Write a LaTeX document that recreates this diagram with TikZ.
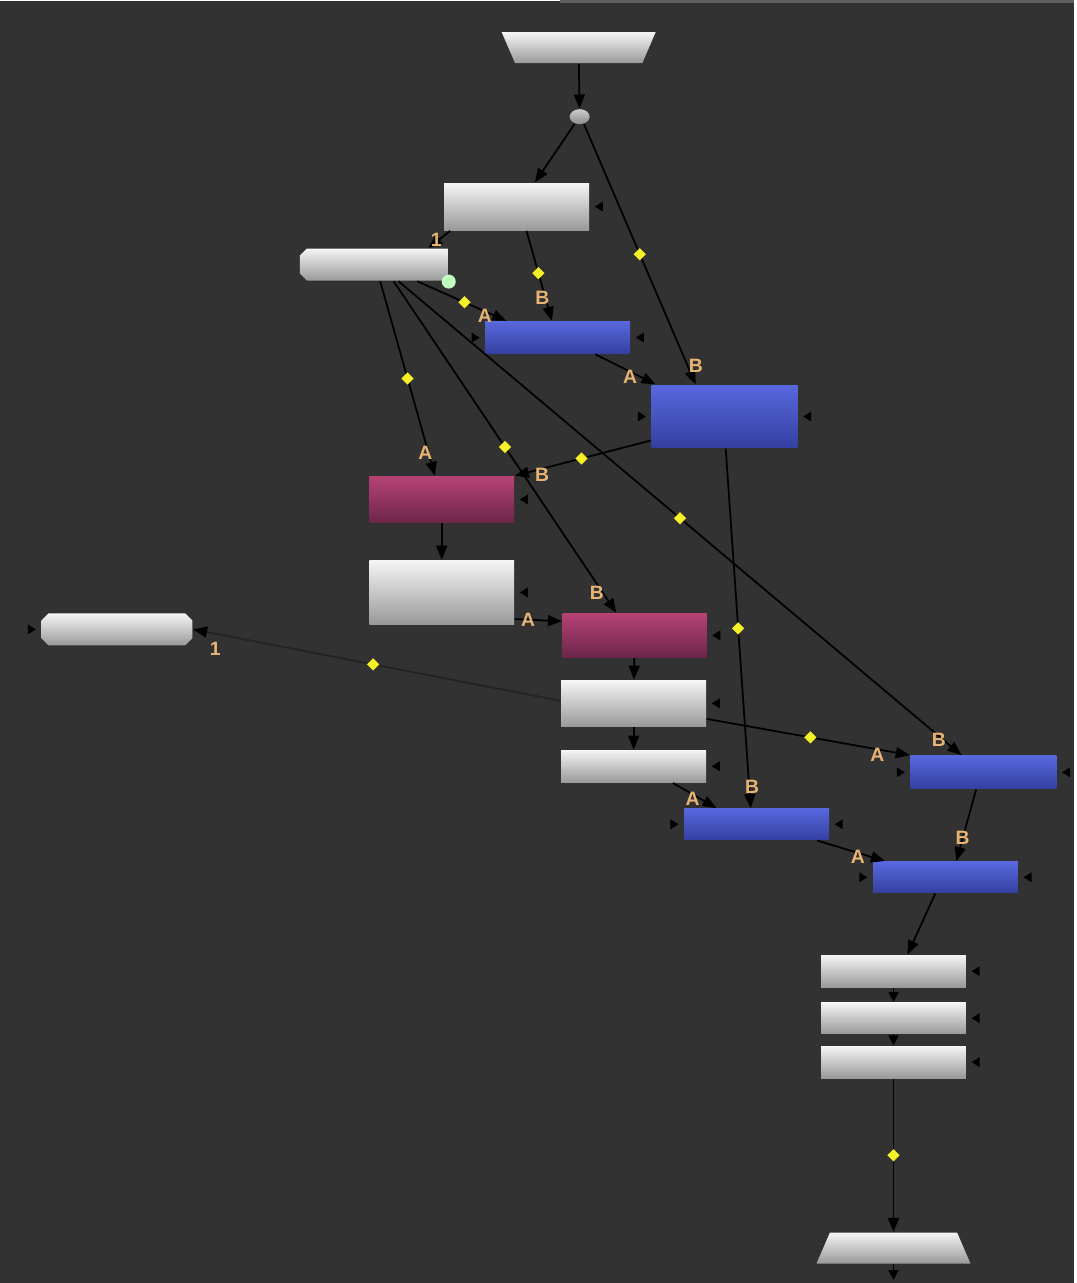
\documentclass[tikz,border=0pt]{standalone}
\usepackage{fontspec}
\setsansfont{Liberation Sans}
\usetikzlibrary{arrows.meta,shapes.geometric,shapes.misc}
\definecolor{bg}{RGB}{50,50,50}
\definecolor{dyel}{RGB}{245,240,40}
\definecolor{lblc}{RGB}{232,180,115}
\definecolor{bluT}{RGB}{88,104,222}
\definecolor{bluB}{RGB}{52,64,160}
\definecolor{pnkT}{RGB}{182,66,116}
\definecolor{pnkB}{RGB}{108,38,74}
\begin{document}
\begin{tikzpicture}[x=0.1mm, y=-0.1mm, >={Triangle[length=1.4mm,width=1.1mm]},
    pipe/.style={->, line width=0.5pt, black},
    short/.style={pipe, -{Triangle[length=1mm,width=1mm]}},
    faint/.style={pipe, draw=black!30!bg, -{Triangle[length=1.4mm,width=1.1mm,color=black]}},
    grey/.style={rectangle, inner sep=0, top color=gray!8, bottom color=gray!80},
    blu/.style={rectangle, inner sep=0, top color=bluT, bottom color=bluB},
    pnk/.style={rectangle, inner sep=0, top color=pnkT, bottom color=pnkB},
    iobox/.style={grey, trapezium, trapezium stretches=true, trapezium angle=84, inner sep=1pt,
        minimum width=15.4mm, minimum height=3.1mm},
    dia/.style={diamond, fill=dyel, inner sep=0, minimum width=1.3mm, minimum height=1.3mm},
    lbl/.style={text=lblc, font=\fontsize{5.5}{6}\sffamily\bfseries, inner sep=0}]
    \fill[bg] (0,0) rectangle (1075,1283);
    \draw[line width=1pt, gray!60!bg] (560,1) -- (1075,1);
    % nodes
    \node[iobox, shape border rotate=180] (rd) at (579,47) {};
    \node[ellipse, inner sep=0, minimum width=2mm, minimum height=1.5mm, top color=gray!40, bottom color=gray!90] (dt) at (580,116) {};
    \node[grey, minimum width=14.5mm, minimum height=4.7mm] (n1) at (517,206) {};
    \node[grey, chamfered rectangle, chamfered rectangle corners={north west,south west},
        chamfered rectangle xsep=0.7mm, chamfered rectangle ysep=0.9mm, inner sep=1pt,
        minimum width=14.8mm, minimum height=3.2mm] (n2) at (374,264) {};
    \node[circle, inner sep=0, minimum size=1.4mm, fill=green!25!white] (gd) at (449,281) {};
    \node[blu, minimum width=14.5mm, minimum height=3.2mm] (m1) at (558,337) {};
    \node[blu, minimum width=14.6mm, minimum height=6.3mm] (m2) at (725,416) {};
    \node[pnk, minimum width=14.5mm, minimum height=4.6mm] (k1) at (442,499) {};
    \node[grey, minimum width=14.5mm, minimum height=6.4mm] (w1) at (442,592) {};
    \node[pnk, minimum width=14.4mm, minimum height=4.4mm] (k2) at (635,635) {};
    \node[grey, chamfered rectangle, chamfered rectangle xsep=0.6mm, chamfered rectangle ysep=1.6mm, inner sep=1pt,
        minimum width=15.1mm, minimum height=3.2mm] (hx) at (117,629) {};
    \node[grey, minimum width=14.5mm, minimum height=4.6mm] (w2) at (634,703) {};
    \node[grey, minimum width=14.5mm, minimum height=3.2mm] (w3) at (634,766) {};
    \node[blu, minimum width=14.6mm, minimum height=3.3mm] (m3) at (984,772) {};
    \node[blu, minimum width=14.5mm, minimum height=3.1mm] (m4) at (757,824) {};
    \node[blu, minimum width=14.5mm, minimum height=3.1mm] (m5) at (946,877) {};
    \node[grey, minimum width=14.5mm, minimum height=3.2mm] (w4) at (894,971) {};
    \node[grey, minimum width=14.5mm, minimum height=3.1mm] (w5) at (894,1018) {};
    \node[grey, minimum width=14.5mm, minimum height=3.2mm] (w6) at (894,1062) {};
    \node[iobox] (wr) at (894,1248) {};
    \coordinate (out) at (894,1280);
    % input pins
    \foreach \n in {n1,m1,m2,k1,w1,k2,w2,w3,m3,m4,m5,w4,w5,w6}
        \fill ([xshift=0.5mm]\n.east) -- ++(0.8mm,0.5mm) -- ++(0,-1mm) -- cycle;
    \foreach \n in {m1,m2,m3,m4,m5,hx}
        \fill ([xshift=-0.5mm]\n.west) -- ++(-0.8mm,0.5mm) -- ++(0,-1mm) -- cycle;
    % pipes
    \draw[pipe] (rd) -- (dt);
    \draw[pipe] (dt.235) -- (n1.53);
    \draw[pipe] (dt.300) -- node[dia, pos=.5] (d1) {} node[lbl, pos=.93, xshift=.8mm] (l1) {B} (m2.132);
    \draw[pipe] (n1.200) -- node[lbl, pos=.55, xshift=-.2mm] (l2) {1} (n2.17);
    \draw[pipe] (n1.292) -- node[dia, pos=.47] (d2) {} node[lbl, pos=.74, xshift=-.3mm] (l3) {B} (m1.109);
    \draw[pipe] (n2.339) -- node[dia, pos=.53] (d3) {} node[lbl, pos=.76, yshift=-.4mm] (l4) {A} (m1.162);
    \draw[pipe] (m1.336) -- node[lbl, pos=.58, yshift=-.5mm] (l5) {A} (m2.155);
    \draw[pipe] (n2.291) -- node[dia, pos=.5] (d4) {} node[lbl, pos=.88, xshift=-.3mm] (l6) {A} (k1.106);
    \draw[pipe] (m2.198) -- node[dia, pos=.51] (d5) {} node[lbl, pos=.8, yshift=-.6mm] (l7) {B} (k1.north east);
    \draw[pipe] (n2.320) -- node[dia, pos=.5] (d6) {} node[lbl, pos=.94, xshift=-.6mm] (l8) {B} (k2.129);
    \draw[pipe] (n2.326) -- node[dia, pos=.5] (d7) {} node[lbl, pos=.96, yshift=-.4mm] (l9) {B} (m3.142);
    \draw[pipe] (k1) -- (w1);
    \draw[pipe] (w1.340) -- node[lbl, pos=.28] (l10) {A} (k2.169);
    \draw[pipe] (k2) -- (w2);
    \draw[pipe] (w2) -- (w3);
    \draw[faint] (w2.178) -- node[dia, pos=.51] (d8) {} node[lbl, pos=.94, yshift=-1.5mm] (l11) {1} (hx.east);
    \draw[pipe] (w2.348) -- node[dia, pos=.51] (d9) {} node[lbl, pos=.84, yshift=-.6mm] (l12) {A} (m3.north west);
    \draw[pipe] (m2.272) -- node[dia, pos=.5] (d10) {} node[lbl, pos=.94, xshift=.3mm] (l13) {B} (m4.110);
    \draw[pipe] (w3.337) -- node[lbl, pos=.45, yshift=-.5mm] (l14) {A} (m4.158);
    \draw[pipe] (m3.247) -- node[lbl, pos=.68] (l15) {B} (m5.56);
    \draw[pipe] (m4.345) -- node[lbl, pos=.6, yshift=-.4mm] (l16) {A} (m5.165);
    \draw[pipe] (m5.238) -- (w4.50);
    \draw[short] (w4) -- (w5);
    \draw[short] (w5) -- (w6);
    \draw[pipe] (w6) -- node[dia, pos=.5] (d11) {} (wr);
    \draw[short] (wr) -- (out);
\end{tikzpicture}
\end{document}
